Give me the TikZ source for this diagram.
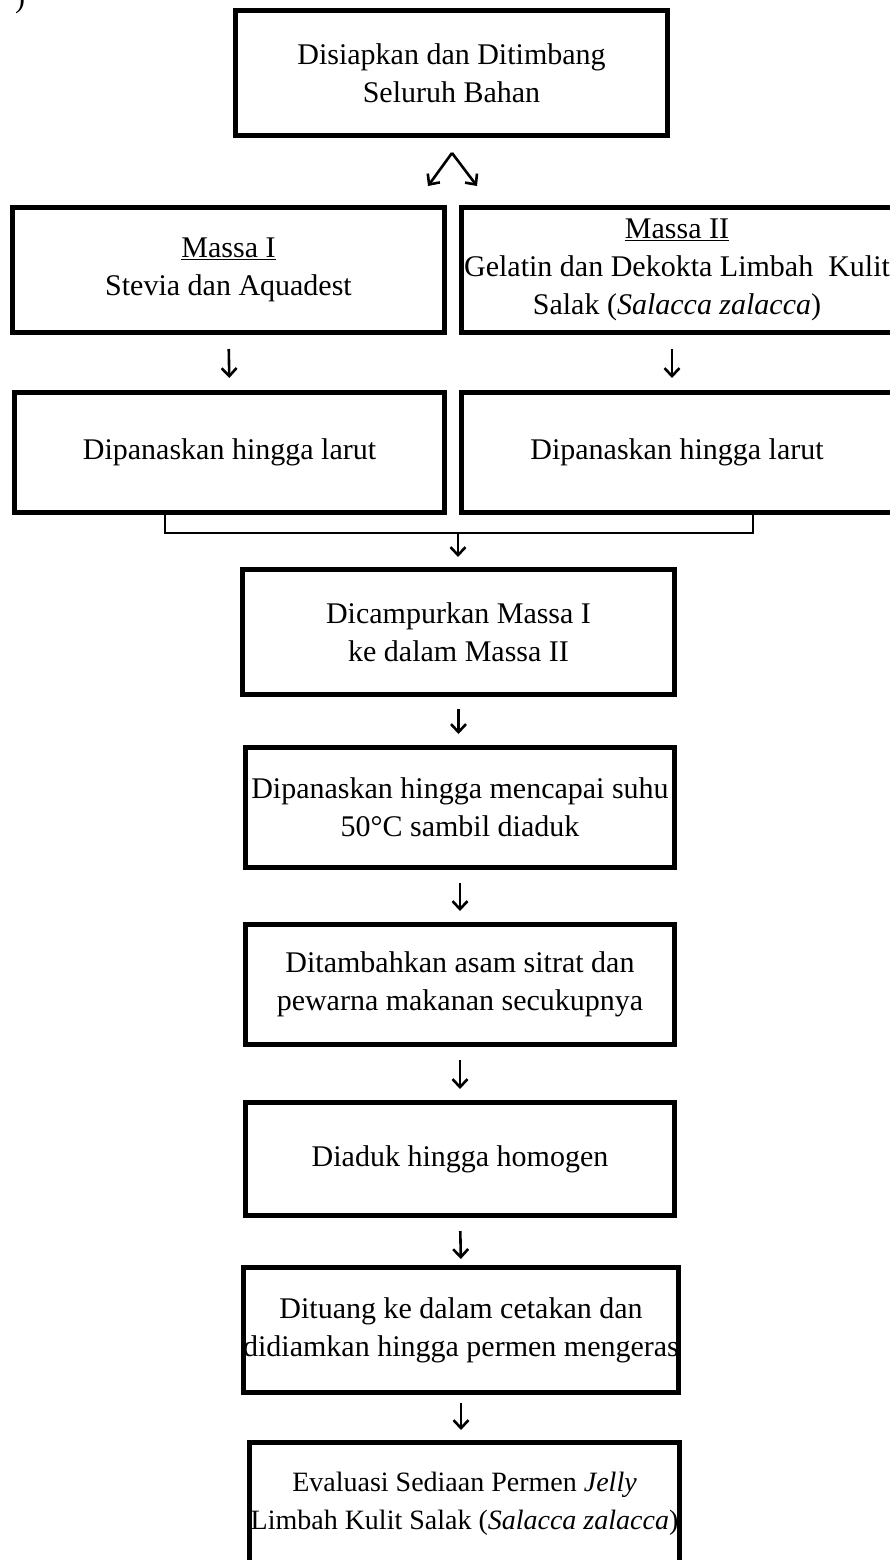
\documentclass[tikz,border=0pt]{standalone}
\usepackage{fontspec}
\setmainfont{Liberation Serif}
\usetikzlibrary{arrows.meta}
\begin{document}
\begin{tikzpicture}[x=1pt,y=-1pt,
  stepbox/.style={draw=black,line width=5pt,fill=white,align=center,inner sep=0pt,
    minimum width=430pt,minimum height=122pt,font=\fontsize{30}{38}\selectfont},
  arr/.style={line width=2.6pt,-{Straight Barb[length=8pt,width=15pt,line width=2.6pt]}},
  joinline/.style={line width=2.8pt}]
\useasboundingbox (0,0) rectangle (889,1560);
\node[anchor=base,font=\fontsize{30}{38}\selectfont] (paren) at (20,8) {)};
\node[stepbox,minimum width=432pt,minimum height=125pt] (b1) at (451.5,73) {Disiapkan dan Ditimbang\\Seluruh Bahan};
\coordinate (apex) at (452,153);
\coordinate (capl) at (428,186);
\coordinate (capr) at (477,186);
\draw[arr] (apex) -- (capl);
\draw[arr] (apex) -- (capr);
\node[stepbox,minimum width=432pt,minimum height=125pt] (m1) at (228.5,270) {\underline{Massa I}\\Stevia dan Aquadest};
\node[stepbox,minimum width=431pt,minimum height=125pt] (m2) at (677,270) {\underline{Massa II}\\Gelatin dan Dekokta Limbah\ \ Kulit\\Salak (\textit{Salacca zalacca})};
\node[stepbox,minimum width=430pt,minimum height=120pt] (d1) at (229.5,452.5) {Dipanaskan hingga larut};
\node[stepbox,minimum width=431pt,minimum height=120pt] (d2) at (677,452.5) {Dipanaskan hingga larut};
\draw[arr,shorten <=14pt,shorten >=12pt] (m1.south) -- (d1.north);
\draw[arr,shorten <=14pt,shorten >=12pt] ([xshift=-5pt]m2.south) -- ([xshift=-5pt]d2.north);
\coordinate (bl) at (165,533);
\coordinate (br) at (753,533);
\coordinate (bm) at (458,533);
\draw[joinline] (d1.south -| bl) -- (bl) -- (br) -- (d2.south -| br);
\node[stepbox,minimum width=432pt,minimum height=125pt] (c1) at (458.5,632) {Dicampurkan Massa I\\ke dalam Massa II};
\draw[arr,shorten >=10pt] (bm) -- (bm |- c1.north);
\node[stepbox,minimum width=429pt,minimum height=120pt] (c2) at (460,807.5) {Dipanaskan hingga mencapai suhu\\50°C sambil diaduk};
\node[stepbox,minimum width=429pt,minimum height=120pt] (c3) at (460,984.5) {Ditambahkan asam sitrat dan\\pewarna makanan secukupnya};
\node[stepbox,minimum width=429pt,minimum height=113pt] (c4) at (460,1159) {Diaduk hingga homogen};
\node[stepbox,minimum width=431pt,minimum height=125pt] (c5) at (461,1330) {Dituang ke dalam cetakan dan\\didiamkan hingga permen mengeras};
\node[stepbox,minimum width=430pt,minimum height=122pt,font=\fontsize{28}{38}\selectfont] (c6) at (464.5,1503.5) {Evaluasi Sediaan Permen \textit{Jelly}\\Limbah Kulit Salak (\textit{Salacca zalacca})};
\draw[arr,shorten <=12pt,shorten >=11pt] (c1.south) -- (c1.south |- c2.north);
\draw[arr,shorten <=13pt,shorten >=11pt] (c2.south) -- (c3.north);
\draw[arr,shorten <=13pt,shorten >=11pt] (c3.south) -- (c4.north);
\draw[arr,shorten <=13pt,shorten >=6pt] (c4.south) -- (c5.north);
\draw[arr,shorten <=8pt,shorten >=10pt] (c5.south) -- (c5.south |- c6.north);
\end{tikzpicture}
\end{document}
